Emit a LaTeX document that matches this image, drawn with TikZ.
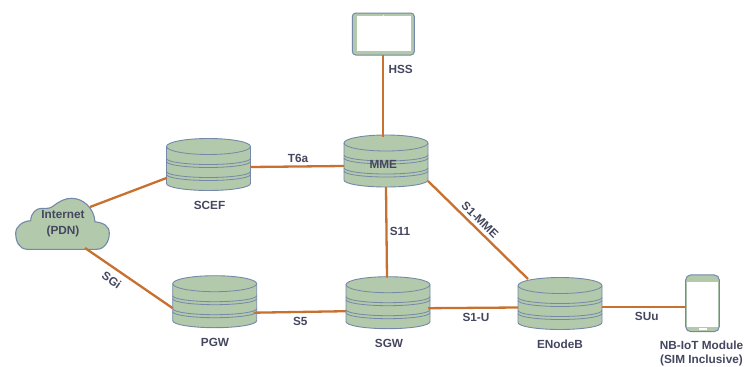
\documentclass[tikz,border=0pt]{standalone}
\usepackage{fontspec}
\setmainfont{Liberation Sans}
\definecolor{dbfill}{HTML}{B2C9AB}
\definecolor{dbline}{HTML}{7488A8}
\definecolor{linkcol}{HTML}{C8702F}
\definecolor{txtcol}{HTML}{44475F}
\tikzset{
  dbbox/.style={minimum width=84pt,minimum height=52pt,inner sep=0pt,outer sep=0pt},
  devbox/.style={inner sep=0pt,outer sep=0pt},
  dbshape/.style={draw=dbline,fill=dbfill,line width=0.9pt},
  dbrim/.style={draw=dbline,line width=0.8pt},
  link/.style={draw=linkcol,line width=2.3pt},
  lbl/.style={font=\bfseries\fontsize{11.8pt}{14.5pt}\selectfont,text=txtcol,inner sep=0pt,align=center},
}
% stack of discs, centred on a dbbox node
\newcommand{\dbstack}[1]{
  \begin{scope}[shift={(#1.center)}]
    \draw[dbshape] (-42,-18) -- (-42,19) arc[start angle=180,end angle=0,x radius=42,y radius=7]
      -- (42,-18) arc[start angle=0,end angle=-180,x radius=42,y radius=8];
    \draw[dbrim] (-42,-18) arc[start angle=180,end angle=0,x radius=42,y radius=8];
    \foreach \yy in {-6,-3,7,10}
      \draw[dbrim] (-42,\yy) arc[start angle=180,end angle=0,x radius=42,y radius=6];
  \end{scope}
}
\begin{document}
\begin{tikzpicture}[x=1pt,y=-1pt]
    \useasboundingbox (0,0) rectangle (745,367);
    \node[dbbox] (scef) at (208.5,164.5) {};
    \node[dbbox] (mme) at (386,161) {};
    \node[dbbox] (pgw) at (214.7,301.7) {};
    \node[dbbox] (sgw) at (388,302.7) {};
    \node[dbbox] (enb) at (560,303.5) {};
    \node[devbox,minimum width=62pt,minimum height=42pt] (hss) at (383.3,34) {};
    \node[devbox,minimum width=33.6pt,minimum height=56.7pt] (ue) at (702.5,303.3) {};
    \node[devbox,minimum width=94pt,minimum height=52pt] (cloud) at (62.5,224) {};
    \dbstack{scef}
    \dbstack{mme}
    \dbstack{pgw}
    \dbstack{sgw}
    \dbstack{enb}
    % tablet
    \draw[draw=dbline,fill=dbfill,line width=1pt,rounded corners=3.5pt] (hss.south west) rectangle (hss.north east);
    \fill[white] ([shift={(4.4,-4.3)}]hss.south west) rectangle ([shift={(-3.6,3.3)}]hss.north east);
    \fill[white] ([shift={(0,2.3)}]hss.north) circle (0.5);
    % phone
    \draw[draw=dbline,fill=dbfill,line width=1pt,rounded corners=5pt] (ue.south west) rectangle (ue.north east);
    \fill[white] ([shift={(1.6,-5)}]ue.south west) rectangle ([shift={(-1.3,6.7)}]ue.north east);
    \fill[white] ([shift={(-3.8,-3.6)}]ue.south) rectangle ([shift={(4,-2)}]ue.south);
    % cloud
    \draw[dbshape,line width=1.1pt] (27,249.3) .. controls (19,249) and (15.7,241) .. (15.7,233.3)
      .. controls (15.7,226) and (23,221) .. (30.7,220.7)
      .. controls (31,213) and (36,208.3) .. (41.7,208.3)
      .. controls (46,208.3) and (50,209) .. (53.3,206)
      .. controls (60,201) and (65,198.3) .. (71.7,198.3)
      .. controls (83,198.3) and (94,208) .. (95,221.7)
      .. controls (104,223) and (109.3,226) .. (109.3,233.3)
      .. controls (109.3,242) and (104,249.3) .. (96.7,249.3) -- cycle;
    % links
    \draw[link] (hss.south) -- ([shift={(-2.7,2)}]mme.north);
    \draw[link] ([shift={(-19.5,9)}]cloud.north east) -- ([shift={(0,13.5)}]scef.west);
    \draw[link] ([shift={(0,2.5)}]scef.east) -- ([shift={(0,5)}]mme.west);
    \draw[link] ([shift={(22.5,-2)}]cloud.south) -- ([shift={(0,6.5)}]pgw.west);
    \draw[link] ([shift={(-3,11)}]pgw.east) -- ([shift={(0,8.5)}]sgw.west);
    \draw[link] ([shift={(-2,5.5)}]sgw.east) -- ([shift={(0,4)}]enb.west);
    \draw[link] ([shift={(0,3.5)}]enb.east) -- ([shift={(0,3.7)}]ue.west);
    \draw[link] (mme.south) -- ([shift={(-1,1)}]sgw.north);
    \draw[link] ([shift={(0,-6)}]mme.south east) -- ([shift={(-32,1.5)}]enb.north);
    % labels
    \node[lbl] (hsstxt) at (400.7,69.3) {HSS};
    \node[lbl] (sceftxt) at (209.5,205.7) {SCEF};
    \node[lbl] (mmetxt) at (383.3,164.3) {MME};
    \node[lbl] (pgwtxt) at (215,342.3) {PGW};
    \node[lbl] (sgwtxt) at (389,343.7) {SGW};
    \node[lbl] (enbtxt) at (560,344) {ENodeB};
    \node[lbl] (uetxt) at (701.5,353.5) {NB-IoT Module\\(SIM Inclusive)};
    \node[lbl] (cloudtxt) at (63,224) {Internet\\[1.5pt](PDN)};
    \node[lbl] (t6atxt) at (298,158) {T6a};
    \node[lbl] (s11txt) at (400,231.7) {S11};
    \node[lbl,rotate=-44] (s1mmetxt) at (480,220) {S1-MME};
    \node[lbl] (s5txt) at (300.3,321.7) {S5};
    \node[lbl] (s1utxt) at (476,317) {S1-U};
    \node[lbl] (suutxt) at (646.7,316) {SUu};
    \node[lbl,rotate=-35] (sgitxt) at (111.7,280) {SGi};
\end{tikzpicture}
\end{document}
